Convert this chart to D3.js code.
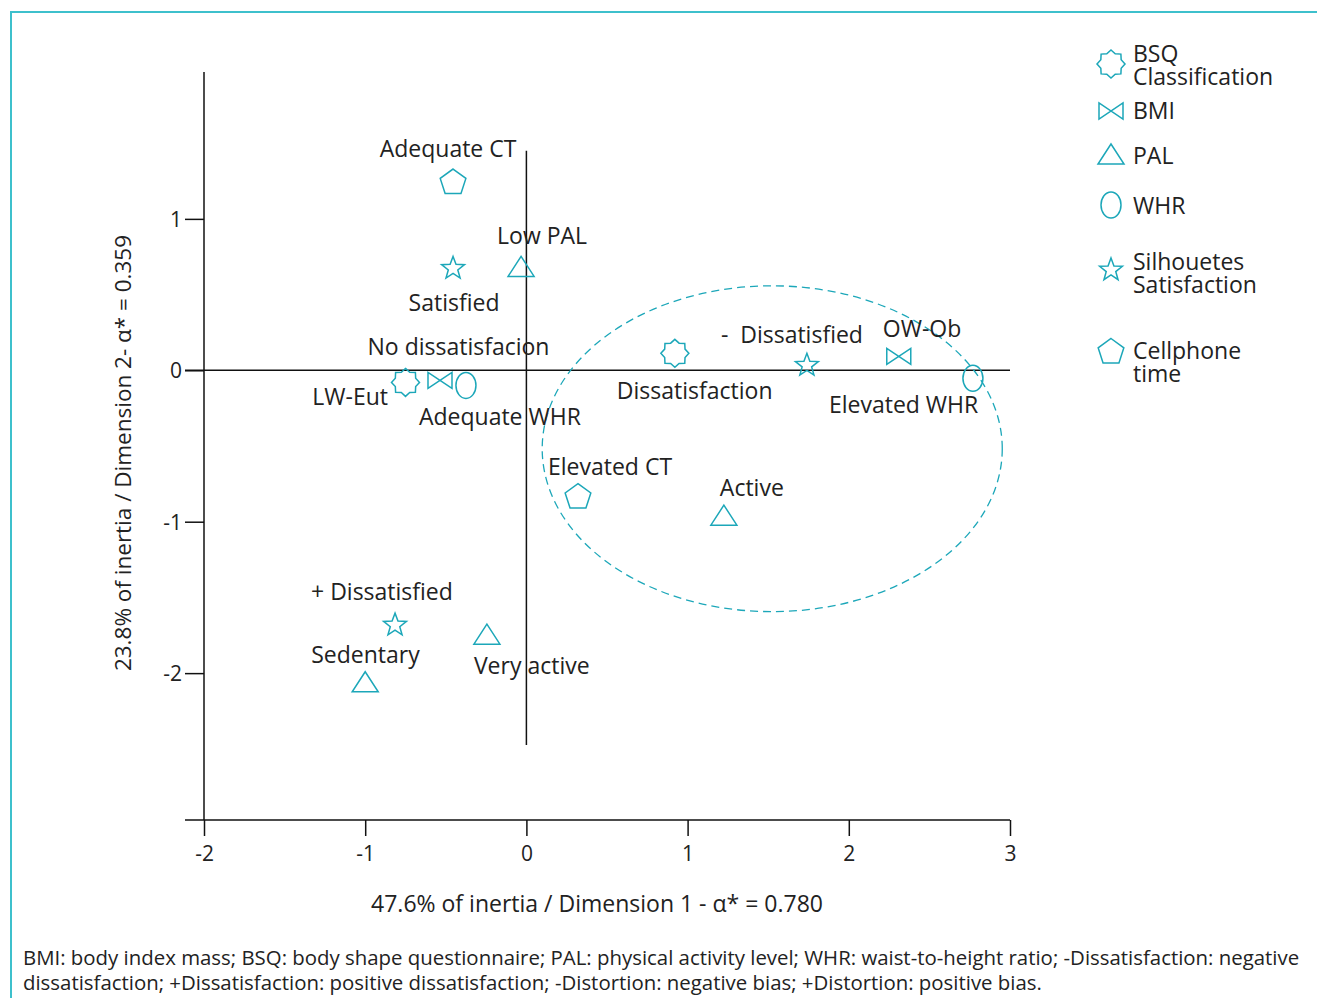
<!DOCTYPE html>
<html>
<head>
<meta charset="utf-8">
<script src="https://cdn.jsdelivr.net/npm/d3@7"></script>
<style>
    body { margin: 0; background: #fff; }
    svg text { font-family: "Open Sans", sans-serif; fill: #222; white-space: pre; }
</style>
</head>
<body>
<svg id="chart" width="1317" height="998"></svg>
<script>
"use strict";

var Teal = "#1ca7b9";

// categories of the correspondence map
var pointLabels = ["Adequate CT", "Satisfied", "Low PAL", "No dissatisfacion", "LW-Eut", "Adequate WHR",
    "Dissatisfaction", "-  Dissatisfied", "OW-Ob", "Elevated WHR", "Elevated CT", "Active",
    "+ Dissatisfied", "Sedentary", "Very active"];
var pointGroups = ["CT", "SIL", "PAL", "BSQ", "BMI", "WHR",
    "BSQ", "SIL", "BMI", "WHR", "CT", "PAL",
    "SIL", "PAL", "PAL"];
var dim1 = [-0.455, -0.455, -0.033, -0.75, -0.536, -0.375,
    0.921, 1.74, 2.31, 2.77, 0.32, 1.225,
    -0.815, -1.0, -0.245];
var dim2 = [1.24, 0.673, 0.673, -0.08, -0.066, -0.1,
    0.112, 0.033, 0.092, -0.053, -0.838, -0.97,
    -1.683, -2.07, -1.756];

// label placement relative to the marker (px)
var labelDx = [-5, 1, -24, -38, -52, -47, -58, -86, -16, -144, -30, -4, -84, -54, -13];
var labelDy = [-26, 43, -24, -27, 25, 40, 46, -22, -19, 35, -22, -21, -25, -21, 38];
var labelAnchor = ["middle", "middle", "start", "start", "end", "start", "start", "start", "start", "start",
    "start", "start", "start", "start", "start"];

var xTicks = [-2, -1, 0, 1, 2, 3];
var yTicks = [-2, -1, 0, 1];

// dashed cluster ellipse (data units)
var clusterCenter = [1.525, -0.518];
var clusterRadius = [1.427, 1.076];

var legendGroups = ["BSQ", "BMI", "PAL", "WHR", "SIL", "CT"];
var legendLines = [["BSQ", "Classification"], ["BMI"], ["PAL"], ["WHR"], ["Silhouetes", "Satisfaction"], ["Cellphone", "time"]];

var xTitle = "47.6% of inertia / Dimension 1 - α* = 0.780";
var yTitle = "23.8% of inertia / Dimension 2- α* = 0.359";
var footnote = [
    "BMI: body index mass; BSQ: body shape questionnaire; PAL: physical activity level; WHR: waist-to-height ratio; -Dissatisfaction: negative",
    "dissatisfaction; +Dissatisfaction: positive dissatisfaction; -Distortion: negative bias; +Distortion: positive bias."
];

var svg = d3.select("#chart");

// frame
svg.append("path")
    .attr("d", "M11,998 L11,12 L1317,12")
    .attr("fill", "none")
    .attr("stroke", "#3dc0cc")
    .attr("stroke-width", 2);

var x = d3.scaleLinear().domain([-2, 3]).range([204, 1010]);
var y = d3.scaleLinear().domain([-2.97, 1.97]).range([820, 72]);

function polygon(n, r, rot) {
    var pts = d3.range(n).map(function (i) {
        var a = rot + i * 2 * Math.PI / n;
        return [r * Math.cos(a), r * Math.sin(a)];
    });
    return "M" + pts.join("L") + "Z";
}

function starPath(n, r1, r2) {
    var pts = d3.range(n * 2).map(function (i) {
        var a = -Math.PI / 2 + i * Math.PI / n;
        var r = i % 2 === 0 ? r1 : r2;
        return [r * Math.cos(a), r * Math.sin(a)];
    });
    return "M" + pts.join("L") + "Z";
}

var Symbols = {
    CT: polygon(5, 13.5, -Math.PI / 2),
    SIL: starPath(5, 12, 5),
    PAL: "M0,-12L13,8L-13,8Z",
    BSQ: starPath(8, 14, 11),
    BMI: "M-12,-8L-12,8L12,-8L12,8Z",
    WHR: "M0,-13A10,13 0 1 1 0,13A10,13 0 1 1 0,-13Z"
};

// axes
var xAxis = svg.append("g")
    .attr("transform", "translate(0,820)")
    .call(d3.axisBottom(x).tickValues(xTicks).tickSize(16).tickSizeOuter(0).tickFormat(String));
xAxis.select(".domain").remove();
xAxis.selectAll("line").attr("stroke", "#111").attr("stroke-width", 1.5);
xAxis.selectAll("text").attr("dy", 0).attr("y", 41).style("font-size", "21px").style("font-family", "Open Sans");

var yAxis = svg.append("g")
    .attr("transform", "translate(204,0)")
    .call(d3.axisLeft(y).tickValues(yTicks).tickSize(19).tickSizeOuter(0).tickFormat(String));
yAxis.select(".domain").remove();
yAxis.selectAll("line").attr("stroke", "#111").attr("stroke-width", 1.5);
yAxis.selectAll("text").attr("x", -22).attr("dy", "0.35em").style("font-size", "21px").style("font-family", "Open Sans");

var lineStyle = function (sel) {
    return sel.attr("stroke", "#111").attr("stroke-width", 1.5);
};
svg.append("line").attr("x1", 185).attr("x2", x(3)).attr("y1", 820).attr("y2", 820).call(lineStyle);
svg.append("line").attr("x1", 204).attr("x2", 204).attr("y1", y(1.97)).attr("y2", 820).call(lineStyle);
svg.append("line").attr("x1", 185).attr("x2", x(3)).attr("y1", y(0)).attr("y2", y(0)).call(lineStyle);
svg.append("line").attr("x1", x(0)).attr("x2", x(0)).attr("y1", y(1.45)).attr("y2", y(-2.475)).call(lineStyle);

// cluster ellipse
svg.append("ellipse")
    .attr("cx", x(clusterCenter[0]))
    .attr("cy", y(clusterCenter[1]))
    .attr("rx", x(clusterRadius[0]) - x(0))
    .attr("ry", y(0) - y(clusterRadius[1]))
    .attr("fill", "none")
    .attr("stroke", Teal)
    .attr("stroke-width", 1.3)
    .attr("stroke-dasharray", "8,5");

// markers
var idx = d3.range(pointLabels.length);
svg.append("g").selectAll("path")
    .data(idx)
    .enter()
    .append("path")
    .attr("transform", function (i) { return "translate(" + x(dim1[i]) + "," + y(dim2[i]) + ")"; })
    .attr("d", function (i) { return Symbols[pointGroups[i]]; })
    .attr("fill", "none")
    .attr("stroke", Teal)
    .attr("stroke-width", 1.5);

svg.append("g").selectAll("text")
    .data(idx)
    .enter()
    .append("text")
    .attr("x", function (i) { return x(dim1[i]) + labelDx[i]; })
    .attr("y", function (i) { return y(dim2[i]) + labelDy[i]; })
    .attr("text-anchor", function (i) { return labelAnchor[i]; })
    .style("font-size", "23px")
    .text(function (i) { return pointLabels[i]; });

// axis titles
svg.append("text")
    .attr("x", 597).attr("y", 912)
    .attr("text-anchor", "middle")
    .style("font-size", "23px")
    .text(xTitle);
svg.append("text")
    .attr("transform", "translate(131,453) rotate(-90)")
    .attr("text-anchor", "middle")
    .style("font-size", "22.5px")
    .text(yTitle);

// legend
var legendY = [64, 111, 156, 205, 270, 352];
var legendTextY = [62, 119, 164, 214, 270, 359];
var legend = svg.append("g");
legendGroups.forEach(function (g, i) {
    legend.append("path")
        .attr("transform", "translate(1111," + legendY[i] + ")")
        .attr("d", Symbols[g])
        .attr("fill", "none")
        .attr("stroke", Teal)
        .attr("stroke-width", 1.5);
    var t = legend.append("text")
        .attr("x", 1133)
        .attr("y", legendTextY[i])
        .style("font-size", "23px");
    legendLines[i].forEach(function (line, j) {
        t.append("tspan")
            .attr("x", 1133)
            .attr("dy", j === 0 ? 0 : 23)
            .text(line);
    });
});

// footnote
footnote.forEach(function (t, i) {
    svg.append("text")
        .attr("x", 23)
        .attr("y", 965 + i * 25)
        .style("font-size", "20.4px")
        .text(t);
});
</script>
</body>
</html>
